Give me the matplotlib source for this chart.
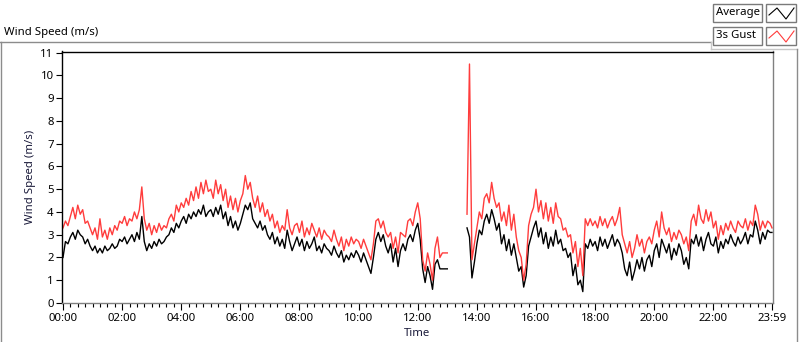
import numpy as np
import matplotlib
matplotlib.use("Agg")
import matplotlib.pyplot as plt
from matplotlib.lines import Line2D
from matplotlib.patches import Rectangle

nan = np.nan
# 5-minute samples (12 per hour), plus the final sample at 23:59
average = [
    2.0, 2.7, 2.6, 2.9, 3.1, 2.8, 3.2, 3.0, 2.9, 2.6, 2.8, 2.5,   # 00
    2.3, 2.5, 2.2, 2.4, 2.2, 2.5, 2.3, 2.4, 2.6, 2.4, 2.5, 2.8,   # 01
    2.7, 2.9, 2.6, 2.8, 3.0, 2.7, 3.1, 2.8, 3.8, 2.7, 2.3, 2.6,   # 02
    2.4, 2.7, 2.5, 2.8, 2.6, 2.7, 2.9, 3.0, 3.3, 3.1, 3.5, 3.3,   # 03
    3.6, 3.8, 3.5, 3.9, 3.7, 4.0, 3.8, 4.1, 3.9, 4.3, 3.8, 4.0,   # 04
    4.1, 3.8, 4.2, 3.9, 4.3, 3.7, 4.0, 3.4, 3.8, 3.3, 3.6, 3.2,   # 05
    3.5, 3.9, 4.3, 4.1, 4.4, 3.7, 3.5, 3.3, 3.6, 3.2, 3.4, 3.0,   # 06
    2.8, 3.1, 2.6, 2.9, 2.5, 2.8, 2.4, 3.2, 2.7, 2.3, 2.6, 2.9,   # 07
    2.5, 2.8, 2.3, 2.7, 2.4, 2.6, 2.9, 2.3, 2.5, 2.2, 2.6, 2.4,   # 08
    2.3, 2.1, 2.5, 2.2, 2.0, 2.3, 1.8, 2.1, 1.9, 2.2, 2.0, 2.3,   # 09
    2.1, 1.8, 2.2, 1.9, 1.6, 1.3, 2.0, 2.8, 3.1, 2.7, 3.0, 2.5,   # 10
    2.2, 2.6, 1.8, 2.4, 1.6, 2.3, 2.6, 2.3, 2.8, 3.0, 2.7, 3.2,   # 11
    3.5, 2.8, 1.5, 0.9, 1.6, 1.2, 0.6, 1.7, 1.9, 1.5, 1.5, 1.5,   # 12
    1.5, nan, nan, nan, nan, nan, nan, nan, 3.3, 2.9, 1.1, 1.8,   # 13
    2.6, 3.2, 3.0, 3.6, 3.9, 3.5, 4.1, 3.7, 3.2, 3.5, 2.6, 3.0,   # 14
    2.3, 2.8, 2.1, 2.6, 2.0, 1.4, 1.6, 0.7, 1.2, 2.5, 2.9, 3.3,   # 15
    3.6, 2.9, 3.3, 2.6, 3.1, 2.4, 2.9, 2.5, 3.2, 2.6, 2.8, 2.3,   # 16
    2.4, 2.0, 2.2, 1.2, 1.7, 0.8, 1.0, 0.5, 2.6, 2.4, 2.8, 2.5,   # 17
    2.7, 2.3, 2.9, 2.5, 2.8, 2.4, 2.7, 3.0, 2.5, 2.8, 2.6, 2.2,   # 18
    1.5, 1.2, 1.8, 1.0, 1.4, 1.9, 1.5, 2.0, 1.4, 1.9, 2.1, 1.6,   # 19
    2.3, 2.6, 2.0, 2.8, 2.5, 2.2, 2.6, 1.9, 2.4, 2.1, 2.6, 2.3,   # 20
    1.7, 2.0, 1.5, 2.8, 2.6, 3.0, 2.5, 2.9, 2.3, 2.8, 3.1, 2.6,   # 21
    2.5, 2.9, 2.2, 2.7, 2.4, 2.8, 2.6, 3.0, 2.7, 2.5, 2.9, 2.6,   # 22
    2.8, 3.1, 2.6, 3.0, 2.9, 3.6, 3.2, 2.6, 3.1, 2.8, 3.2, 3.1,   # 23
    3.1,
]
gust = [
    3.3, 3.6, 3.4, 3.8, 4.2, 3.7, 4.3, 3.9, 4.1, 3.5, 3.6, 3.3,   # 00
    3.0, 3.3, 2.8, 3.7, 2.9, 3.2, 2.8, 3.3, 3.0, 3.4, 3.2, 3.6,   # 01
    3.5, 3.8, 3.4, 3.7, 3.6, 4.0, 3.7, 4.1, 5.1, 3.7, 3.2, 3.5,   # 02
    3.0, 3.4, 3.1, 3.5, 3.2, 3.4, 3.3, 3.7, 3.9, 3.6, 4.3, 4.0,   # 03
    4.4, 4.2, 4.6, 4.3, 4.9, 4.5, 5.1, 4.6, 5.3, 4.8, 5.4, 4.9,   # 04
    5.0, 4.6, 5.4, 4.8, 5.2, 4.5, 5.0, 4.2, 4.7, 4.1, 4.6, 4.0,   # 05
    4.5, 4.8, 5.6, 5.0, 5.3, 4.6, 4.2, 4.7, 4.0, 4.4, 3.8, 4.1,   # 06
    3.6, 3.9, 3.3, 3.6, 3.1, 3.4, 3.2, 4.1, 3.3, 3.0, 3.4, 3.5,   # 07
    3.1, 3.6, 2.9, 3.3, 3.0, 3.5, 3.2, 2.9, 3.3, 2.8, 3.2, 3.0,   # 08
    2.9, 2.7, 3.2, 2.8, 2.5, 2.9, 2.3, 2.8, 2.5, 2.9, 2.6, 2.8,   # 09
    2.7, 2.4, 2.8, 2.5, 2.2, 1.9, 2.6, 3.6, 3.7, 3.3, 3.6, 3.1,   # 10
    2.9, 3.1, 2.4, 2.9, 2.2, 3.1, 3.0, 2.9, 3.6, 3.7, 3.4, 4.0,   # 11
    4.4, 3.7, 1.9, 1.4, 2.2, 1.7, 1.0, 2.4, 2.9, 2.0, 2.2, 2.2,   # 12
    2.2, nan, nan, nan, nan, nan, nan, nan, 3.9, 10.5, 1.9, 2.6,  # 13
    3.3, 4.0, 3.7, 4.6, 4.8, 4.4, 5.3, 4.6, 4.2, 4.4, 3.6, 4.0,   # 14
    3.4, 4.3, 3.2, 3.9, 2.9, 2.3, 2.0, 1.0, 1.7, 3.4, 3.9, 4.2,   # 15
    5.0, 4.0, 4.5, 3.7, 4.4, 3.6, 4.2, 3.5, 4.4, 3.8, 3.7, 3.2,   # 16
    3.3, 2.9, 3.0, 2.2, 2.7, 1.6, 2.4, 1.2, 3.7, 3.4, 3.7, 3.4,   # 17
    3.6, 3.3, 3.8, 3.4, 3.7, 3.3, 3.6, 3.8, 3.4, 3.7, 4.2, 3.0,   # 18
    2.6, 2.2, 2.7, 2.0, 2.4, 3.0, 2.5, 2.8, 2.2, 2.7, 2.9, 2.6,   # 19
    3.2, 3.6, 2.9, 4.0, 3.3, 3.0, 3.3, 2.7, 3.1, 2.8, 3.2, 3.0,   # 20
    2.6, 2.9, 2.3, 3.6, 3.9, 3.4, 4.3, 3.7, 3.5, 4.1, 3.6, 4.0,   # 21
    3.3, 3.6, 2.8, 3.4, 3.0, 3.5, 3.2, 3.6, 3.3, 3.1, 3.6, 3.4,   # 22
    3.3, 3.7, 3.2, 3.6, 3.4, 4.3, 3.9, 3.2, 3.6, 3.3, 3.6, 3.5,   # 23
    3.3,
]
minutes = list(range(0, 1440, 5)) + [1439]
tick_minutes = [0, 120, 240, 360, 480, 600, 720, 840, 960, 1080, 1200, 1320, 1439]
tick_labels = ["00:00", "02:00", "04:00", "06:00", "08:00", "10:00", "12:00",
               "14:00", "16:00", "18:00", "20:00", "22:00", "23:59"]
y_ticks = list(range(0, 12))
series_names = ["Average", "3s Gust"]
series_colors = ["#000000", "#ff3c3c"]

plt.rcParams['font.family'] = ['Noto Sans', 'DejaVu Sans']
FS = 8.2
W, H = 800, 342
fig = plt.figure(figsize=(W / 100, H / 100), dpi=100)
fig.patch.set_facecolor("white")

def fx(x):
    return x / W

def fy(y):
    return 1 - y / H

ax = fig.add_axes([fx(62), fy(303), fx(773) - fx(62), fy(51.5) - fy(303)])
ax.plot(minutes, average, color=series_colors[0], lw=1.0)
ax.plot(minutes, gust, color=series_colors[1], lw=1.0)
ax.set_xlim(-2, 1441)
ax.set_ylim(0, 11.05)
ax.set_yticks(y_ticks)
ax.set_xticks(tick_minutes)
ax.set_xticklabels(tick_labels)
ax.set_xticks(np.arange(0, 1440, 15), minor=True)
ax.tick_params(axis="y", length=4, width=0.8, labelsize=FS, pad=2, colors="black")
ax.tick_params(axis="x", which="major", length=5, width=0.8, labelsize=FS, pad=2)
ax.tick_params(axis="x", which="minor", length=3, width=0.8)
for s in ["top", "left"]:
    ax.spines[s].set_color("black")
    ax.spines[s].set_linewidth(1.0)
for s in ["right", "bottom"]:
    ax.spines[s].set_color("#808080")
    ax.spines[s].set_linewidth(1.0)
ax.set_xlabel("Time", fontsize=FS, labelpad=3, color="#1a1a3a")
ax.set_ylabel("Wind Speed (m/s)", fontsize=FS, labelpad=3, color="#1a1a3a")

# outer LabVIEW-style frame
grey = "#8c8c8c"
fig.add_artist(Line2D([fx(0), fx(711)], [fy(42), fy(42)], color=grey, lw=1.0))
fig.add_artist(Line2D([fx(0.5), fx(0.5)], [fy(42), fy(342)], color=grey, lw=1.0))
fig.add_artist(Line2D([fx(711), fx(711)], [fy(42), fy(49)], color="#c8c8c8", lw=1.0))
fig.add_artist(Line2D([fx(711), fx(797)], [fy(49), fy(49)], color="#c8c8c8", lw=1.0))
fig.add_artist(Line2D([fx(797), fx(797)], [fy(49), fy(342)], color=grey, lw=1.0))

fig.text(fx(4), fy(32), "Wind Speed (m/s)", fontsize=FS, va="center", ha="left")

# legend
for i, (name, col) in enumerate(zip(series_names, series_colors)):
    top = 4 + i * 23
    fig.add_artist(Rectangle((fx(713), fy(top + 18)), fx(762) - fx(713), fy(top) - fy(top + 18),
                             facecolor="white", edgecolor="#7a7a7a", lw=1.0))
    fig.text(fx(716), fy(top + 9), name, fontsize=FS, va="center", ha="left")
    fig.add_artist(Rectangle((fx(766), fy(top + 18)), fx(796) - fx(766), fy(top) - fy(top + 18),
                             facecolor="white", edgecolor="#7a7a7a", lw=1.0))
    xs = [769, 777, 786, 794]
    ys = [top + 11, top + 4, top + 15, top + 4]
    fig.add_artist(Line2D([fx(v) for v in xs], [fy(v) for v in ys], color=col, lw=0.8))

fig.savefig("out.png", dpi=100, facecolor="white")
